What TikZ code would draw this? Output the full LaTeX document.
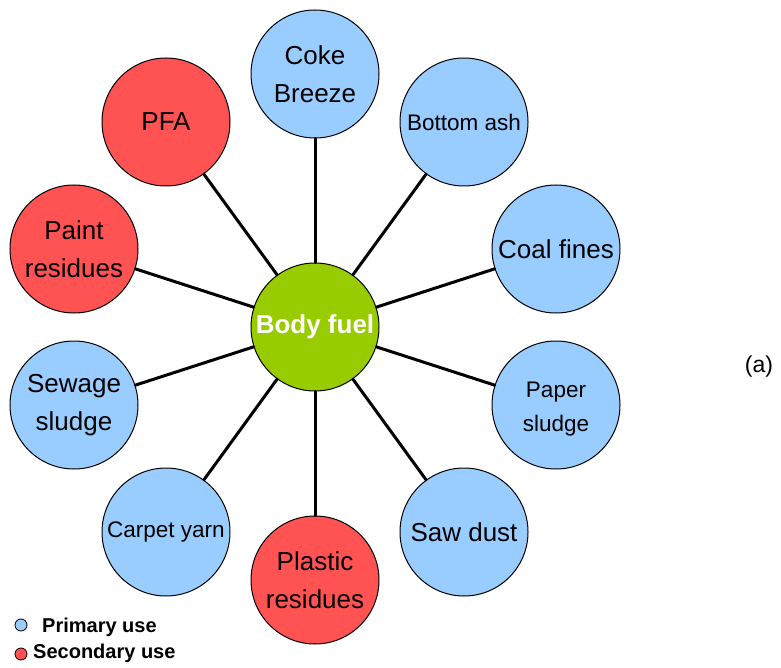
\documentclass[tikz,border=0pt]{standalone}
\usepackage{fontspec}
\setmainfont{Liberation Sans}
\definecolor{primaryblue}{HTML}{99CCFF}
\definecolor{secondaryred}{HTML}{FF5353}
\definecolor{fuelgreen}{HTML}{99CC00}
\tikzset{
  disc/.style={circle, draw=black, line width=1pt, minimum size=128pt, inner sep=0pt,
    align=center, font=\fontsize{26}{38}\selectfont},
  small/.style={font=\fontsize{22.5}{34}\selectfont},
  primary/.style={disc, fill=primaryblue},
  secondary/.style={disc, fill=secondaryred},
  spoke/.style={line width=3pt, line cap=round},
  legenddot/.style={circle, draw=black, line width=0.8pt, minimum size=12pt, inner sep=0pt},
  legendtext/.style={anchor=base west, inner sep=0pt, font=\fontsize{20}{20}\selectfont\bfseries}
}
\begin{document}
\begin{tikzpicture}[x=1pt, y=-1pt]
  \useasboundingbox (0,0) rectangle (781,668);

  % hub
  \node[disc, fill=fuelgreen, text=white, font=\fontsize{26}{30}\selectfont\bfseries] (hub) at (315,327) {\raisebox{-2pt}{Body fuel}};

  % surrounding materials, 36 degrees apart
  \node[primary] (coke)    at (315,74)  {Coke\\Breeze};
  \node[primary, small] (bottom) at (464,122) {Bottom ash};
  \node[primary] (coal)    at (556,249) {Coal fines};
  \node[primary] (paper)   at (556,405) {};
  \node[small, align=center, inner sep=0pt] (papertext) at (556,409) {Paper\\sludge};
  \node[primary] (saw)     at (464,532) {Saw dust};
  \node[secondary] (plastic) at (315,580) {Plastic\\residues};
  \node[primary, small] (carpet) at (166,532) {Carpet yarn};
  \node[primary] (sewage)  at (74,405)  {Sewage\\sludge};
  \node[secondary] (paint) at (74,249)  {Paint\\residues};
  \node[secondary] (pfa)   at (166,122) {PFA};

  % spokes
  \foreach \n in {coke,bottom,coal,paper,saw,plastic,carpet,sewage,paint,pfa}
    \draw[spoke] (hub) -- (\n);

  % panel label
  \node[font=\fontsize{23}{23}\selectfont] (tag) at (759,367) {(a)};

  % legend
  \node[legenddot, fill=primaryblue] (kp) at (21,625) {};
  \node[legendtext] (kpt) at (42,632) {Primary use};
  \node[legenddot, fill=secondaryred] (ks) at (21,654) {};
  \node[legendtext] (kst) at (33,658) {Secondary use};
\end{tikzpicture}
\end{document}
